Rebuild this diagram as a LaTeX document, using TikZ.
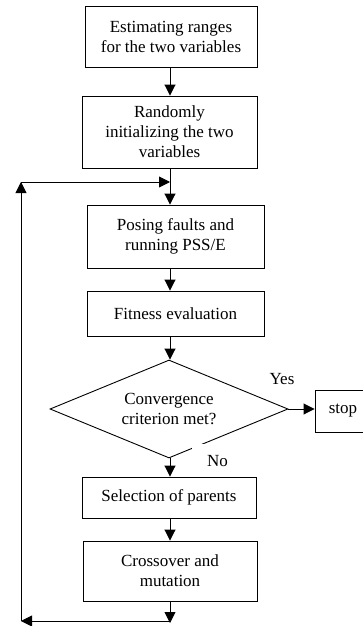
\documentclass[tikz,border=0pt]{standalone}
\usepackage{fontspec}
\setmainfont{Liberation Serif}
\usetikzlibrary{shapes.geometric,arrows.meta}
\begin{document}
\begin{tikzpicture}[x=1pt,y=-1pt,
  every node/.style={font=\fontsize{17}{20}\selectfont},
  stepbox/.style={draw,line width=0.9pt,align=center,inner sep=0pt},
  arr/.style={line width=0.9pt,-{Triangle[width=11pt,length=11pt]}},
  ln/.style={line width=0.9pt}]
\useasboundingbox (0,0) rectangle (363,626);
\node[stepbox,minimum width=172,minimum height=61] (b1) at (171,36.5) {Estimating ranges\\for the two variables};
\node[stepbox,minimum width=175,minimum height=72] (b2) at (169.5,132) {Randomly\\initializing the two\\variables};
\node[stepbox,minimum width=177,minimum height=63] (b3) at (175.5,236.5) {Posing faults and\\running PSS/E};
\node[stepbox,minimum width=177,minimum height=45] (b4) at (175.5,313.5) {Fitness evaluation};
\node[stepbox,shape=diamond,aspect=2.4,minimum width=238,minimum height=98] (d) at (169,409) {Convergence\\criterion met?};
\node[stepbox,minimum width=56,minimum height=42] (stop) at (343,411) {stop};
\node[stepbox,minimum width=174,minimum height=41] (b5) at (169,497.5) {Selection of parents};
\node[stepbox,minimum width=174,minimum height=60] (b6) at (170,571) {Crossover and\\mutation};
\fill[white] (192,443.5) rectangle (205,451);
\node (yes) at (282,379) {Yes};
\node (no) at (217.5,461) {No};
\coordinate (ax) at (170,0);
\coordinate (j) at (170,182);
\coordinate (lt) at (21,182);
\coordinate (lb) at (21,621);
\coordinate (bj) at (170,621);
\coordinate (be) at (170,623);
\draw[arr] (b1.south -| ax) -- (b2.north -| ax);
\draw[arr] (b2.south -| ax) -- (b3.north -| ax);
\draw[arr] (b3.south -| ax) -- (b4.north -| ax);
\draw[arr] (b4.south -| ax) -- (d.north -| ax);
\draw[arr] (d.east) -- (stop.west |- d.east);
\draw[arr] (d.south -| ax) -- (b5.north -| ax);
\draw[arr] (b5.south -| ax) -- (b6.north -| ax);
\draw[arr] (b6.south -| ax) -- (be);
\draw[arr] (bj) -- (lb);
\draw[arr] (lb) -- (lt);
\draw[arr] (lt) -- (j);
\end{tikzpicture}
\end{document}
